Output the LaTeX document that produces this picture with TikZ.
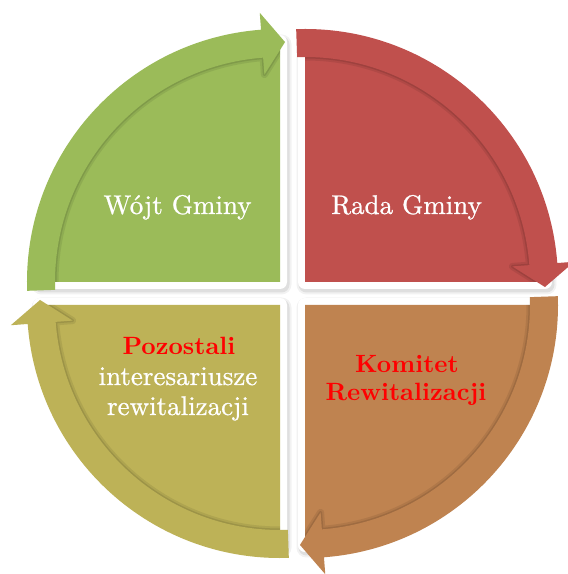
\documentclass[tikz,border=0pt]{standalone}
\usepackage{fontspec}
\newfontfamily\wfont{lmroman10-regular.otf}[FakeBold=0.8]
\newfontfamily\rfont{lmroman10-bold.otf}
\definecolor{qgreen}{HTML}{9BBB59}
\definecolor{qred}{HTML}{C0504D}
\definecolor{qorange}{HTML}{BF8350}
\definecolor{qolive}{HTML}{BDB257}
\begin{document}
\begin{tikzpicture}[x=1pt,y=1pt]
\tikzset{
 pie/.style={insert path={(0,0) -- (180:240pt) arc[start angle=180,end angle=90,radius=240pt] -- cycle}},
 band/.style={insert path={(182:253pt) arc[start angle=182,end angle=94.3,radius=253pt] -- (94.3:270pt) -- (88.8:240pt) -- (94.3:208pt) -- (94.3:225pt) arc[start angle=94.3,end angle=182,radius=225pt] -- cycle}},
 wtext/.style={text=white, font=\wfont\fontsize{27}{30}\selectfont, anchor=base, inner sep=0pt},
 rtext/.style={text=red, font=\rfont\fontsize{25}{30}\selectfont, anchor=base, inner sep=0pt},
}
\useasboundingbox (0,0) rectangle (568,574);
\fill[white] (0,0) rectangle (568,574);
% soft shadows of the quadrants
\foreach \cx/\cy/\r in {280/292/0, 305/292/-90, 305/269/-180, 280/269/-270} {
  \begin{scope}[shift={({\cx+1.5},{\cy-2.5})}, rotate=\r]
    \draw[black, opacity=.05, line width=20pt, line join=round, pie];
    \draw[black, opacity=.08, line width=16pt, line join=round, pie];
  \end{scope}
}
% quadrants with white border
\foreach \cx/\cy/\r/\c in {280/292/0/qgreen, 305/292/-90/qred, 305/269/-180/qorange, 280/269/-270/qolive} {
  \begin{scope}[shift={(\cx,\cy)}, rotate=\r]
    \draw[white, line width=14pt, line join=round, pie];
    \fill[\c, pie];
  \end{scope}
}
% curved arrows
\foreach \cx/\cy/\r/\c in {280/292/0/qgreen, 305/292/-90/qred, 305/269/-180/qorange, 280/269/-270/qolive} {
  \begin{scope}[shift={(\cx,\cy)}, rotate=\r]
    \begin{scope}
      \clip[pie];
      \draw[black, opacity=.08, line width=7pt, line join=round, band];
      \draw[black, opacity=.10, line width=3pt, line join=round, band];
    \end{scope}
    \fill[\c, band];
  \end{scope}
}
% texts
\node[wtext] (wojt) at (177.5,360) {Wójt Gminy};
\node[wtext] (rada) at (406.5,360) {Rada Gminy};
\node[rtext] (pozo) at (179,219) {Pozostali};
\node[wtext] (inter) at (178,189) {interesariusze};
\node[wtext] (rewit) at (178,159) {rewitalizacji};
\node[rtext] (komitet) at (407,201) {Komitet};
\node[rtext] (komrew) at (406,173) {Rewitalizacji};
\end{tikzpicture}
\end{document}
